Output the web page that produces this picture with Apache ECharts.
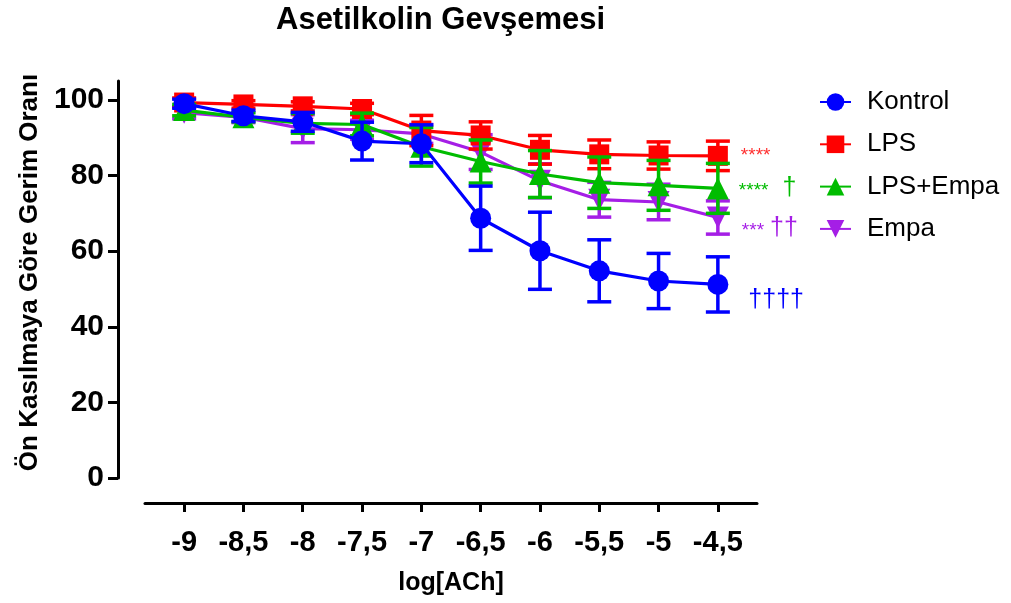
<!DOCTYPE html>
<html>
<head>
<meta charset="utf-8">
<script src="https://cdn.jsdelivr.net/npm/echarts@6/dist/echarts.min.js"></script>
<style>
  html, body { margin: 0; padding: 0; background: #fff; }
  #chart { width: 1011px; height: 603px; }
</style>
</head>
<body>
<div id="chart"></div>
<script>
// Acetylcholine concentration (log M) on the x axis
const logACh = [-9, -8.5, -8, -7.5, -7, -6.5, -6, -5.5, -5, -4.5];
const xTicks = [-9, -8.5, -8, -7.5, -7, -6.5, -6, -5.5, -5, -4.5];
const yTicks = [0, 20, 40, 60, 80, 100];

// Mean relaxation (%) and SEM per group
const kontrolMean  = [99.0, 95.8, 94.2, 89.1, 88.4, 68.7, 60.1, 54.8, 52.1, 51.2];
const kontrolSem   = [1.2, 1.5, 2.5, 5.0, 5.0, 8.5, 10.2, 8.2, 7.3, 7.3];
const lpsMean      = [99.3, 98.8, 98.3, 97.6, 91.9, 90.6, 86.8, 85.6, 85.3, 85.2];
const lpsSem       = [1.2, 1.0, 1.2, 1.5, 4.0, 3.6, 3.8, 3.8, 3.6, 3.9];
const lpsEmpaMean  = [97.3, 95.4, 93.8, 93.5, 87.6, 83.7, 80.4, 78.1, 77.4, 76.6];
const lpsEmpaSem   = [1.5, 1.2, 2.6, 3.0, 5.1, 5.7, 6.2, 6.8, 6.6, 6.6];
const empaMean     = [96.6, 95.4, 92.4, 92.1, 91.0, 86.2, 78.6, 73.6, 73.0, 68.9];
const empaSem      = [1.6, 1.4, 3.7, 2.5, 2.5, 4.6, 4.5, 4.6, 4.7, 4.4];

// Significance marks shown after the last point of each curve
const kontrolMark = '††††';
const lpsMark = '****';
const lpsEmpaMark = ['****', '†'];
const empaMark = ['***', '††'];

const FONT = '"Liberation Sans", Arial, sans-serif';
const BLUE = '#0000FF', RED = '#FF0000', GREEN = '#00BC00', PURPLE = '#A51EE6';

const chart = echarts.init(document.getElementById('chart'), null, { renderer: 'canvas' });

function pointData(means, markLabel) {
  return means.map((m, i) => {
    const item = { value: [logACh[i], m] };
    if (i === means.length - 1 && markLabel) item.label = markLabel;
    return item;
  });
}

function errData(means, sems) {
  return means.map((m, i) => [logACh[i], m - sems[i], m + sems[i]]);
}

// Vertical SEM bar with caps at both ends
function errSeries(group, means, sems, color, z) {
  return {
    name: group + ' SEM',
    type: 'custom',
    z: z,
    silent: true,
    itemStyle: { color: color },
    data: errData(means, sems),
    encode: { x: 0, y: [1, 2] },
    renderItem: function (params, api) {
      const x = api.value(0);
      const top = api.coord([x, api.value(2)]);
      const bot = api.coord([x, api.value(1)]);
      const hw = 12;
      const style = { stroke: color, lineWidth: 3.5, fill: null };
      return {
        type: 'group',
        children: [
          { type: 'line', shape: { x1: top[0], y1: top[1], x2: bot[0], y2: bot[1] }, style: style },
          { type: 'line', shape: { x1: top[0] - hw, y1: top[1], x2: top[0] + hw, y2: top[1] }, style: style },
          { type: 'line', shape: { x1: bot[0] - hw, y1: bot[1], x2: bot[0] + hw, y2: bot[1] }, style: style }
        ]
      };
    }
  };
}

function lineSeries(name, means, color, symbol, rotate, size, z, markLabel) {
  return {
    name: name,
    type: 'line',
    z: z,
    data: pointData(means, markLabel),
    symbol: symbol,
    symbolRotate: rotate,
    symbolSize: size,
    showAllSymbol: true,
    lineStyle: { color: color, width: 3.2 },
    itemStyle: { color: color, opacity: 1 },
    emphasis: { disabled: true },
    animation: false
  };
}

const markRich = function (color, gap) {
  return {
    s: { fontSize: 19, color: color, fontFamily: FONT, padding: [5, 0, 0, 0] },
    d: { fontSize: 25, color: color, fontFamily: FONT, padding: [0, 0, 0, gap] }
  };
};

const option = {
  backgroundColor: '#ffffff',
  animation: false,
  title: {
    text: 'Asetilkolin Gevşemesi',
    left: 271,
    top: 0,
    textStyle: { fontFamily: FONT, fontWeight: 'bold', fontSize: 31, color: '#000' }
  },
  legend: {
    orient: 'vertical',
    left: 819,
    top: 89,
    padding: 0,
    itemWidth: 31,
    itemHeight: 22,
    itemGap: 16.3,
    textStyle: { fontFamily: FONT, fontSize: 26, color: '#000', lineHeight: 22, padding: [0, 0, 0, 11] },
    data: ['Kontrol', 'LPS', 'LPS+Empa', 'Empa']
  },
  grid: { left: 145, right: 254, top: 81, bottom: 125, containLabel: false },
  xAxis: {
    type: 'value',
    min: -9.33,
    max: -4.17,
    offset: 25,
    name: 'log[ACh]',
    nameLocation: 'middle',
    nameGap: 68,
    nameTextStyle: { fontFamily: FONT, fontWeight: 'bold', fontSize: 25, color: '#000' },
    axisLine: { show: true, onZero: false, lineStyle: { color: '#000', width: 3 } },
    axisTick: { show: true, length: 9, lineStyle: { color: '#000', width: 3 }, customValues: xTicks },
    axisLabel: {
      margin: 25,
      fontFamily: FONT, fontWeight: 'bold', fontSize: 29, color: '#000',
      customValues: xTicks,
      formatter: function (v) { return String(v).replace('.', ','); }
    },
    splitLine: { show: false }
  },
  yAxis: {
    type: 'value',
    min: 0,
    max: 105,
    offset: 27,
    name: 'Ön Kasılmaya Göre Gerim Oranı',
    nameLocation: 'middle',
    nameRotate: 90,
    nameGap: 74,
    nameTextStyle: { fontFamily: FONT, fontWeight: 'bold', fontSize: 26, color: '#000', padding: [0, 0, 0, 14] },
    axisLine: { show: true, onZero: false, lineStyle: { color: '#000', width: 3 } },
    axisTick: { show: true, length: 10, lineStyle: { color: '#000', width: 3 }, customValues: yTicks },
    axisLabel: {
      margin: 14,
      fontFamily: FONT, fontWeight: 'bold', fontSize: 30, color: '#000',
      customValues: yTicks
    },
    splitLine: { show: false }
  },
  series: [
    lineSeries('Empa', empaMean, PURPLE, 'triangle', 180, 22, 2, {
      show: true, position: 'right', distance: 13, offset: [0, 11],
      formatter: '{s|' + empaMark[0] + '}{d|' + empaMark[1] + '}', rich: markRich(PURPLE, 6)
    }),
    errSeries('Empa', empaMean, empaSem, PURPLE, 2),
    lineSeries('LPS', lpsMean, RED, 'rect', 0, 20, 3, {
      show: true, position: 'right', distance: 13, offset: [0, -3],
      formatter: '{s|' + lpsMark + '}', rich: markRich('#FF3030', 0)
    }),
    errSeries('LPS', lpsMean, lpsSem, RED, 3),
    lineSeries('LPS+Empa', lpsEmpaMean, GREEN, 'triangle', 0, 22, 4, {
      show: true, position: 'right', distance: 10, offset: [0, 0],
      formatter: '{s|' + lpsEmpaMark[0] + '}{d|' + lpsEmpaMark[1] + '}', rich: markRich(GREEN, 14)
    }),
    errSeries('LPS+Empa', lpsEmpaMean, lpsEmpaSem, GREEN, 4),
    lineSeries('Kontrol', kontrolMean, BLUE, 'circle', 0, 21, 5, {
      show: true, position: 'right', distance: 20, offset: [0, 16],
      formatter: '{d|' + kontrolMark + '}', rich: markRich(BLUE, 0)
    }),
    errSeries('Kontrol', kontrolMean, kontrolSem, BLUE, 5)
  ]
};

chart.setOption(option);
</script>
</body>
</html>
